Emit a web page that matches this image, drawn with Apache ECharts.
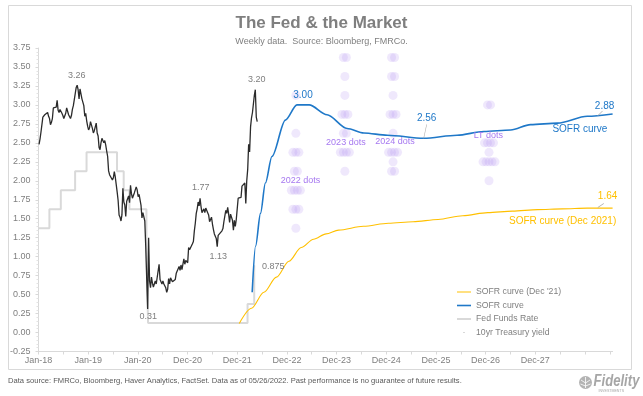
<!DOCTYPE html>
<html><head><meta charset="utf-8">
<script src="https://cdn.jsdelivr.net/npm/echarts/dist/echarts.min.js"></script>
<style>html,body{margin:0;padding:0;background:#fff}#c{width:643px;height:396px}</style>
</head><body><div id="c"></div>
<script>
// ---------- data ----------
const xLabels = ['Jan-18','Jan-19','Jan-20','Dec-20','Dec-21','Dec-22','Dec-23','Dec-24','Dec-25','Dec-26','Dec-27'];
const yTicks = [-0.25,3.75,0.25];

// 10yr Treasury yield, weekly (Fridays) from 2018-01-05
const tsyStartDate = '2018-01-05';
const tsy2018 = [2.48,2.55,2.64,2.66,2.84,2.85,2.87,2.87,2.86,2.90,2.85,2.82,2.74,2.77,2.82,2.96,2.96,2.95,2.97,3.06,2.93,2.90,2.94,2.92,2.89,2.86,2.82,2.83,2.89,2.96,2.95,2.87,2.87,2.82,2.86,2.94,2.99,3.07,3.06,3.23,3.26,3.20,3.08,3.21,3.19,3.08,3.06,2.99,2.85,2.89,2.79,2.72];
const tsy2019 = [2.67,2.70,2.78,2.76,2.69,2.63,2.66,2.65,2.76,2.63,2.59,2.44,2.41,2.50,2.56,2.56,2.50,2.53,2.47,2.39,2.32,2.13,2.08,2.08,2.06,2.01,2.04,2.12,2.05,2.07,1.85,1.74,1.55,1.52,1.47,1.55,1.90,1.72,1.68,1.53,1.73,1.75,1.80,1.71,1.94,1.83,1.77,1.78,1.84,1.82,1.92,1.88];
const tsy2020 = [1.79,1.82,1.84,1.68,1.51,1.58,1.59,1.47,1.13,0.71,0.31,1.25,0.68,0.59,0.73,0.65,0.60,0.64,0.68,0.64,0.66,0.65,0.90,0.70,0.70,0.64,0.68,0.64,0.63,0.59,0.53,0.57,0.71,0.64,0.72,0.72,0.67,0.69,0.66,0.70,0.78,0.76,0.84,0.87,0.82,0.89,0.83,0.84,0.97,0.90,0.95,0.94];
const tsy2021 = [0.92,1.12,1.09,1.09,1.07,1.17,1.20,1.34,1.44,1.57,1.63,1.72,1.67,1.77,1.66,1.58,1.56,1.63,1.58,1.64,1.63,1.58,1.55,1.46,1.45,1.52,1.43,1.36,1.30,1.28,1.24,1.13,1.28,1.26,1.31,1.32,1.34,1.37,1.46,1.48,1.61,1.57,1.65,1.56,1.45,1.56,1.54,1.48,1.35,1.48,1.40,1.49,1.51];
const tsy2022 = [1.77,1.78,1.75,1.78,1.93,1.94,1.93,1.97,1.70,2.00,2.15,2.48,2.38,2.71,2.83,2.90,2.89,3.13,3.20,2.84,2.78];
const tsyNoteDates = ['2018-10-12','2022-05-13','2021-04-02','2021-08-06','2020-03-13'];

// Fed Funds Rate (midpoint of target range)
const fedDates = ['2018-01-01','2018-03-22','2018-06-14','2018-09-27','2018-12-20','2019-08-01','2019-09-19','2019-10-31','2020-03-04','2020-03-16','2022-03-17','2022-05-05','2022-05-12'];
const fedRates = [1.375,1.625,1.875,2.125,2.375,2.125,1.875,1.625,1.125,0.125,0.375,0.875,0.875];

// SOFR curve (current)
const sofrDates = ['2022-04-20','2022-05-15','2022-06-20','2022-07-26','2022-09-12','2022-12-20','2023-03-15','2023-06-13','2023-10-22','2024-03-17','2024-07-19','2025-01-07','2025-10-01','2026-06-03','2026-12-17','2027-07-02','2027-11-25','2028-06-10','2029-01-15','2029-07-20'];
const sofrVals = [0.53,1.14,1.57,1.97,2.32,2.80,3.00,3.00,2.87,2.69,2.63,2.60,2.56,2.60,2.65,2.67,2.74,2.76,2.85,2.88];

// SOFR curve (Dec 2021)
const sofr21Dates = ['2022-01-15','2022-04-15','2022-07-15','2022-10-15','2023-01-15','2023-04-15','2023-07-15','2023-10-15','2024-01-15','2024-07-15','2025-01-15','2025-07-15','2026-01-15','2026-07-15','2027-01-15','2027-07-15','2028-01-15','2028-07-15','2029-01-15','2029-07-20'];
const sofr21Vals = [0.12,0.32,0.53,0.73,0.94,1.12,1.23,1.30,1.35,1.40,1.44,1.46,1.49,1.54,1.58,1.60,1.62,1.63,1.64,1.64];

// FOMC dots: [rate, number of dots]
const dotDates = ['2023-03-07','2024-03-01','2025-02-18','2027-01-24'];
const dots2022 = [[3.125,1],[2.625,1],[2.375,3],[2.125,2],[1.875,4],[1.625,3],[1.375,1]];
const dots2023 = [[3.625,2],[3.375,1],[3.125,1],[2.875,3],[2.625,2],[2.375,4],[2.125,1]];
const dots2024 = [[3.625,2],[3.375,2],[3.125,1],[2.875,3],[2.625,1],[2.375,4],[2.25,1],[2.125,2]];
const dotsLT = [[3.0,2],[2.5,4],[2.375,1],[2.25,5],[2.0,1]];
const dotNames = ['2022 dots','2023 dots','2024 dots','LT dots'];

// ---------- build ----------
function dayOf(s){const p=s.split('-').map(Number);return (Date.UTC(p[0],p[1]-1,p[2])-Date.UTC(2018,0,1))/86400000;}
const tsyStart = dayOf(tsyStartDate);
const tsyValues = [].concat(tsy2018,tsy2019,tsy2020,tsy2021,tsy2022);
const tsyData = tsyValues.map((v,i)=>[tsyStart+7*i,v]);
const fedData = fedDates.map((d,i)=>[dayOf(d),fedRates[i]]);
const sofrData = sofrDates.map((d,i)=>[dayOf(d),sofrVals[i]]);
const sofr21Data = sofr21Dates.map((d,i)=>[dayOf(d),sofr21Vals[i]]);
const xMax = dayOf(sofrDates[sofrDates.length-1]);

const DOT_SPREAD = 22; // days between overlapping dots (layout)
const dotCols = [dots2022,dots2023,dots2024,dotsLT];
const dotData = [];
dotCols.forEach((rows,ci)=>{const cx=dayOf(dotDates[ci]);rows.forEach(r=>{for(let k=0;k<r[1];k++)dotData.push([cx+(k-(r[1]-1)/2)*DOT_SPREAD,r[0]]);});});

const GRAY='#7f7f7f', BLUE='#1f78c8', GOLD='#ffc000', FED='#d9d9d9', DOTC='#a678f0';
const FONT='"Liberation Sans", Arial, sans-serif';

function note(x,y,text,dx,dy,color,size){
  return {coord:[x,y],value:y,symbol:'circle',symbolSize:1,itemStyle:{color:'rgba(0,0,0,0)'},
    label:{show:true,position:'inside',offset:[dx,dy],formatter:text,color:color,fontSize:size,fontFamily:FONT}};
}
function leader(x,y,w,h,dx,dy){
  return {coord:[x,y],symbol:'path://M0,'+h+'L'+w+',0',symbolSize:[w,h],symbolOffset:[dx,dy],symbolKeepAspect:false,
    itemStyle:{color:'none',borderColor:'#a6a6a6',borderWidth:0.8},label:{show:false}};
}
function tsyAt(d){return tsyValues[Math.round((dayOf(d)-tsyStart)/7)];}

const tsyNoteOffsets = [[-0.5,-10],[1.4,-10],[0.6,-11],[1.1,10],[0.6,8]];
const tsyMarks = tsyNoteDates.map((d,i)=>{const v=tsyAt(d);return note(dayOf(d),v,v.toFixed(2),tsyNoteOffsets[i][0],tsyNoteOffsets[i][1],GRAY,9);});

const sLast = sofrData.length-1, yLast = sofr21Data.length-1;
const sMaxI = sofrVals.indexOf(Math.max.apply(null,sofrVals));
const sMinI = sofrVals.indexOf(Math.min.apply(null,sofrVals.slice(sMaxI)),sMaxI);

const dotLabelAnchors = [[2.0,4.7],[2.5,1],[2.52,2],[2.6,-0.7]];
const dotMarks = dotNames.map((n,i)=>note(dayOf(dotDates[i]),dotLabelAnchors[i][0],n,dotLabelAnchors[i][1],0,DOTC,9));

const lineIcon=(h)=>'path://M0,0M14,10M0,'+(5-h/2)+'h14v'+h+'h-14z';

const option = {
  animation:false,
  textStyle:{fontFamily:FONT},
  title:{text:'The Fed & the Market',subtext:'Weekly data.  Source: Bloomberg, FMRCo.',left:'center',top:10,itemGap:5,
    textStyle:{fontSize:17,fontWeight:'bold',color:'#7f7f7f',fontFamily:FONT},
    subtextStyle:{fontSize:9,color:'#7f7f7f',fontFamily:FONT}},
  grid:{left:38.5,right:643-612.6,top:48,bottom:44.5,containLabel:false,outerBoundsMode:'none'},
  legend:{orient:'vertical',left:452,top:282,itemWidth:14,itemHeight:10,itemGap:3.5,
    itemStyle:{borderWidth:0},
    textStyle:{fontSize:8.7,color:GRAY,fontFamily:FONT,lineHeight:10},
    data:[
      {name:"SOFR curve (Dec '21)",icon:lineIcon(1)},
      {name:'SOFR curve',icon:lineIcon(1.6)},
      {name:'Fed Funds Rate',icon:lineIcon(2)},
      {name:'10yr Treasury yield',icon:'path://M0,0M14,10M6.4,4.4h1.2v1.2h-1.2z',itemStyle:{color:'#bfbfbf'}}
    ]},
  xAxis:{type:'value',min:0,max:xMax,interval:182.5,
    axisLine:{show:true,onZero:false,lineStyle:{color:'#d9d9d9',width:1}},
    axisTick:{show:true,length:3,lineStyle:{color:'#d9d9d9'}},
    splitLine:{show:false},
    axisLabel:{margin:5,fontSize:9,color:GRAY,fontFamily:FONT,showMaxLabel:false,hideOverlap:false,
      formatter:function(v){const k=v/365;return (Number.isInteger(k)&&k<xLabels.length)?xLabels[k]:'';}}},
  yAxis:{type:'value',min:yTicks[0],max:yTicks[1],interval:yTicks[2],
    axisLine:{show:true,lineStyle:{color:'#d9d9d9',width:1}},
    axisTick:{show:true,length:3,lineStyle:{color:'#d9d9d9'}},
    minorTick:{show:true,splitNumber:5,length:2,lineStyle:{color:'#e3e3e3'}},
    splitLine:{show:false},
    axisLabel:{margin:8,fontSize:9,color:GRAY,fontFamily:FONT,formatter:v=>v.toFixed(2)}},
  series:[
    {name:'FOMC dots',type:'scatter',data:dotData,symbolSize:9,z:1,
      itemStyle:{color:'rgba(185,150,242,0.28)'},
      markPoint:{silent:true,data:dotMarks}},
    {name:'Fed Funds Rate',type:'line',step:'end',data:fedData,symbol:'none',z:2,color:FED,
      lineStyle:{color:FED,width:2},
      markPoint:{silent:true,data:[note(fedData[11][0],fedRates[11],'0.875',19,0,GRAY,9)]}},
    {name:"SOFR curve (Dec '21)",type:'line',data:sofr21Data,symbol:'none',smooth:0.3,smoothMonotone:'x',z:3,color:GOLD,
      lineStyle:{color:GOLD,width:1.1},
      markPoint:{silent:true,data:[
        note(sofr21Data[yLast][0],sofr21Vals[yLast],sofr21Vals[yLast].toFixed(2),-5,-11.7,GOLD,10),
        leader(sofr21Data[yLast][0],sofr21Vals[yLast],6,4,-11.8,-2.6),
        note(sofr21Data[yLast][0],sofr21Vals[yLast],'SOFR curve (Dec 2021)',-50,13.3,GOLD,10)]}},
    {name:'SOFR curve',type:'line',data:sofrData,symbol:'none',smooth:0.3,smoothMonotone:'x',z:4,color:BLUE,
      lineStyle:{color:BLUE,width:1.6},
      markPoint:{silent:true,data:[
        note(sofrData[sMaxI][0],sofrVals[sMaxI],sofrVals[sMaxI].toFixed(2),6,-10,BLUE,10),
        leader(sofrData[sMinI][0],sofrVals[sMinI],3,14,1.5,-7),
        note(sofrData[sMinI][0],sofrVals[sMinI],sofrVals[sMinI].toFixed(2),3,-20.5,BLUE,10),
        note(sofrData[sLast][0],sofrVals[sLast],sofrVals[sLast].toFixed(2),-8,-8,BLUE,10),
        leader(sofrData[sLast][0],sofrVals[sLast],5,5,-12.5,-0.6),
        note(sofrData[sLast][0],sofrVals[sLast],'SOFR curve',-32.7,15,BLUE,10)]}},
    {name:'10yr Treasury yield',type:'line',data:tsyData,symbol:'none',z:5,color:'#2b2b2b',
      lineStyle:{color:'#2b2b2b',width:1.3},
      markPoint:{silent:true,data:tsyMarks}}
  ],
  graphic:[
    {type:'rect',shape:{x:8.5,y:5.5,width:623,height:364},style:{fill:'none',stroke:'#d9d9d9',lineWidth:1},silent:true,z:-10},
    {type:'text',left:8,top:377,style:{text:'Data source: FMRCo, Bloomberg, Haver Analytics, FactSet. Data as of 05/26/2022. Past performance is no guarantee of future results.',fontSize:7.6,fill:'#595959',fontFamily:FONT}},
    {type:'group',left:578,top:374,children:[
      {type:'circle',shape:{cx:7,cy:7.5,r:6.5},style:{fill:'#b3b3b3'}},
      {type:'polyline',shape:{points:[[7,2],[7,13]]},style:{stroke:'#fff',lineWidth:0.8}},
      {type:'polyline',shape:{points:[[2.5,5],[7,8],[11.5,5]]},style:{stroke:'#fff',fill:'none',lineWidth:0.8}},
      {type:'polyline',shape:{points:[[2,9],[7,11],[12,9]]},style:{stroke:'#fff',fill:'none',lineWidth:0.8}},
      {type:'text',x:15,y:-1,scaleX:0.82,style:{text:'Fidelity',fontSize:16,fontWeight:'bold',fontStyle:'italic',fill:'#a6a6a6',fontFamily:FONT}},
      {type:'text',x:20,y:14,style:{text:'INVESTMENTS',fontSize:3.6,fill:'#a6a6a6',fontFamily:FONT}}
    ]}
  ]
};
const chart = echarts.init(document.getElementById('c'),null,{renderer:'canvas'});
chart.setOption(option);
</script></body></html>
